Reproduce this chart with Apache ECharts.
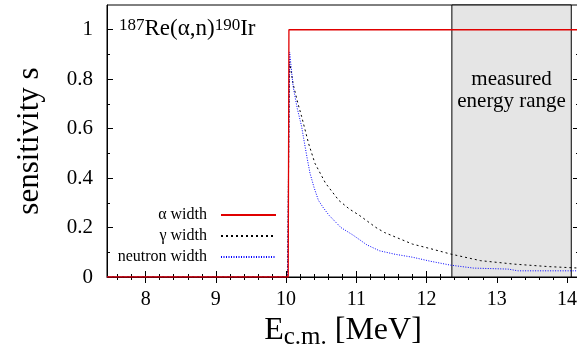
<!DOCTYPE html>
<html>
<head>
<meta charset="utf-8">
<script src="https://cdn.jsdelivr.net/npm/echarts@6/dist/echarts.min.js"></script>
<style>
  html, body { margin: 0; padding: 0; background: #fff; }
  #echart { width: 577px; height: 354px; }
</style>
</head>
<body>
<div id="echart"></div>
<script>
// --- data ------------------------------------------------------------
var alphaWidth = [[7.45, 0], [10.03, 0], [10.04, 1], [14.17, 1]];

var gammaWidth = [
	[7.45, 0], [10.02, 0], [10.05, 0.87], [10.1, 0.78], [10.17, 0.70], [10.22, 0.65],
	[10.32, 0.54], [10.41, 0.46], [10.56, 0.38], [10.75, 0.31], [10.9, 0.275], [11.04, 0.25],
	[11.28, 0.20], [11.4, 0.18], [11.57, 0.16], [11.8, 0.133], [12.05, 0.115], [12.34, 0.093],
	[12.77, 0.066], [13.25, 0.052], [13.74, 0.042], [14.17, 0.036]
];

var neutronWidth = [
	[7.45, 0], [10.02, 0], [10.05, 0.91], [10.1, 0.77], [10.16, 0.68], [10.22, 0.61], [10.25, 0.56],
	[10.3, 0.48], [10.34, 0.42], [10.4, 0.36], [10.46, 0.31], [10.53, 0.28], [10.61, 0.25],
	[10.78, 0.20], [10.95, 0.17], [11.15, 0.13], [11.33, 0.106], [11.55, 0.092], [11.8, 0.08],
	[12.05, 0.064], [12.34, 0.048], [12.67, 0.036], [13.16, 0.032], [13.3, 0.025], [14.17, 0.025]
];

var measuredRange = [12.36, 14.06];

var xTicks = [8, 9, 10, 11, 12, 13, 14];
var xMinorTicks = [7.6, 7.8, 8.2, 8.4, 8.6, 8.8, 9.2, 9.4, 9.6, 9.8, 10.2, 10.4, 10.6, 10.8,
	11.2, 11.4, 11.6, 11.8, 12.2, 12.4, 12.6, 12.8, 13.2, 13.4, 13.6, 13.8];
var yTicks = [0, 0.2, 0.4, 0.6, 0.8, 1];
var yMinorTicks = [0.1, 0.3, 0.5, 0.7, 0.9];

// ----------------------------------------------------------------------
var serif = '"Liberation Serif", "DejaVu Serif", serif';
var xMin = 7.45, xMax = 14.17, yMin = 0, yMax = 1.1;

function tickAxis(position, ticks, len) {
	var horizontal = position == 'bottom' || position == 'top';
	return {
		type: 'value',
		position: position,
		min: horizontal ? xMin : yMin,
		max: horizontal ? xMax : yMax,
		axisLine: { show: false },
		splitLine: { show: false },
		axisTick: { show: true, inside: true, length: len, customValues: ticks, lineStyle: { color: '#000' } },
		axisLabel: { show: false }
	};
}

var xMain = tickAxis('bottom', xTicks, 6);
xMain.axisLine = { show: true, lineStyle: { color: '#000' } };
xMain.axisLabel = { show: true, customValues: xTicks, color: '#000', fontFamily: serif, fontSize: 20, margin: 13 };
xMain.name = '{e|E}{sub|c.m.}{e| [MeV]}';
xMain.nameLocation = 'middle';
xMain.nameGap = 34;
xMain.nameTextStyle = {
	rich: {
		e: { fontFamily: serif, fontSize: 32, color: '#000', lineHeight: 38, verticalAlign: 'bottom', padding: [0, 0, 3, 0] },
		sub: { fontFamily: serif, fontSize: 25, color: '#000', lineHeight: 20, verticalAlign: 'bottom' }
	}
};

var yMain = tickAxis('left', yTicks, 6);
yMain.axisLine = { show: true, lineStyle: { color: '#000' } };
yMain.axisLabel = {
	show: true, customValues: yTicks, color: '#000', fontFamily: serif, fontSize: 21, margin: 14,
	formatter: function(v) { return String(v); }
};
yMain.name = 'sensitivity s';
yMain.nameLocation = 'middle';
yMain.nameGap = 62;
yMain.nameTextStyle = { fontFamily: serif, fontSize: 31, color: '#000' };

function legendAt(name, top) {
	return {
		data: [name],
		right: 300,
		top: top,
		orient: 'vertical',
		align: 'right',
		padding: 0,
		itemWidth: 55,
		itemHeight: 14,
		selectedMode: false,
		itemStyle: { opacity: 0 },
		textStyle: { fontFamily: serif, fontSize: 16, color: '#000', padding: [0, 9, 0, 0] }
	};
}

var eChart = echarts.init(document.getElementById('echart'), null, { renderer: 'canvas' });

var eChartOption = {
	animation: false,
	backgroundColor: '#fff',
	title: {
		text: '{sup|187}{e|Re(α,n)}{sup|190}{e|Ir}',
		left: 119,
		top: 17,
		padding: 0,
		textStyle: {
			rich: {
				e: { fontFamily: serif, fontSize: 23, fontWeight: 'normal', color: '#000', lineHeight: 27, verticalAlign: 'top' },
				sup: { fontFamily: serif, fontSize: 17, fontWeight: 'normal', color: '#000', lineHeight: 17, verticalAlign: 'top' }
			}
		}
	},
	legend: [
		legendAt('α width', 207),
		legendAt('γ width', 228),
		legendAt('neutron width', 249)
	],
	grid: {
		left: 107,
		top: 5,
		width: 472,
		height: 272,
		outerBoundsMode: 'none',
		show: true,
		borderColor: '#000',
		borderWidth: 1,
		backgroundColor: 'transparent'
	},
	xAxis: [
		xMain,
		tickAxis('bottom', xMinorTicks, 3),
		tickAxis('top', xTicks, 6),
		tickAxis('top', xMinorTicks, 3)
	],
	yAxis: [
		yMain,
		tickAxis('left', yMinorTicks, 3),
		tickAxis('right', yTicks, 6),
		tickAxis('right', yMinorTicks, 3)
	],
	series: [
		{
			name: 'range',
			type: 'line',
			data: [],
			z: 1,
			markArea: {
				silent: true,
				itemStyle: { color: '#e5e5e5', borderColor: '#000', borderWidth: 1 },
				label: {
					show: true,
					position: 'insideTop',
					distance: 64,
					formatter: 'measured\nenergy range',
					fontFamily: serif,
					fontSize: 21,
					lineHeight: 22,
					color: '#000'
				},
				data: [[{ xAxis: measuredRange[0] }, { xAxis: measuredRange[1] }]]
			}
		},
		{
			name: 'α width',
			type: 'line',
			data: alphaWidth,
			symbol: 'none',
			z: 4,
			color: '#e00000',
			lineStyle: { color: '#e00000', width: 1.3 }
		},
		{
			name: 'γ width',
			type: 'line',
			data: gammaWidth,
			symbol: 'none',
			z: 3,
			color: '#000',
			lineStyle: { color: '#000', width: 1, type: [2, 3] }
		},
		{
			name: 'neutron width',
			type: 'line',
			data: neutronWidth,
			symbol: 'none',
			z: 3,
			color: '#0000ff',
			lineStyle: { color: '#0000ff', width: 1, type: [1, 1.5] }
		}
	]
};

eChart.setOption(eChartOption);
</script>
</body>
</html>
